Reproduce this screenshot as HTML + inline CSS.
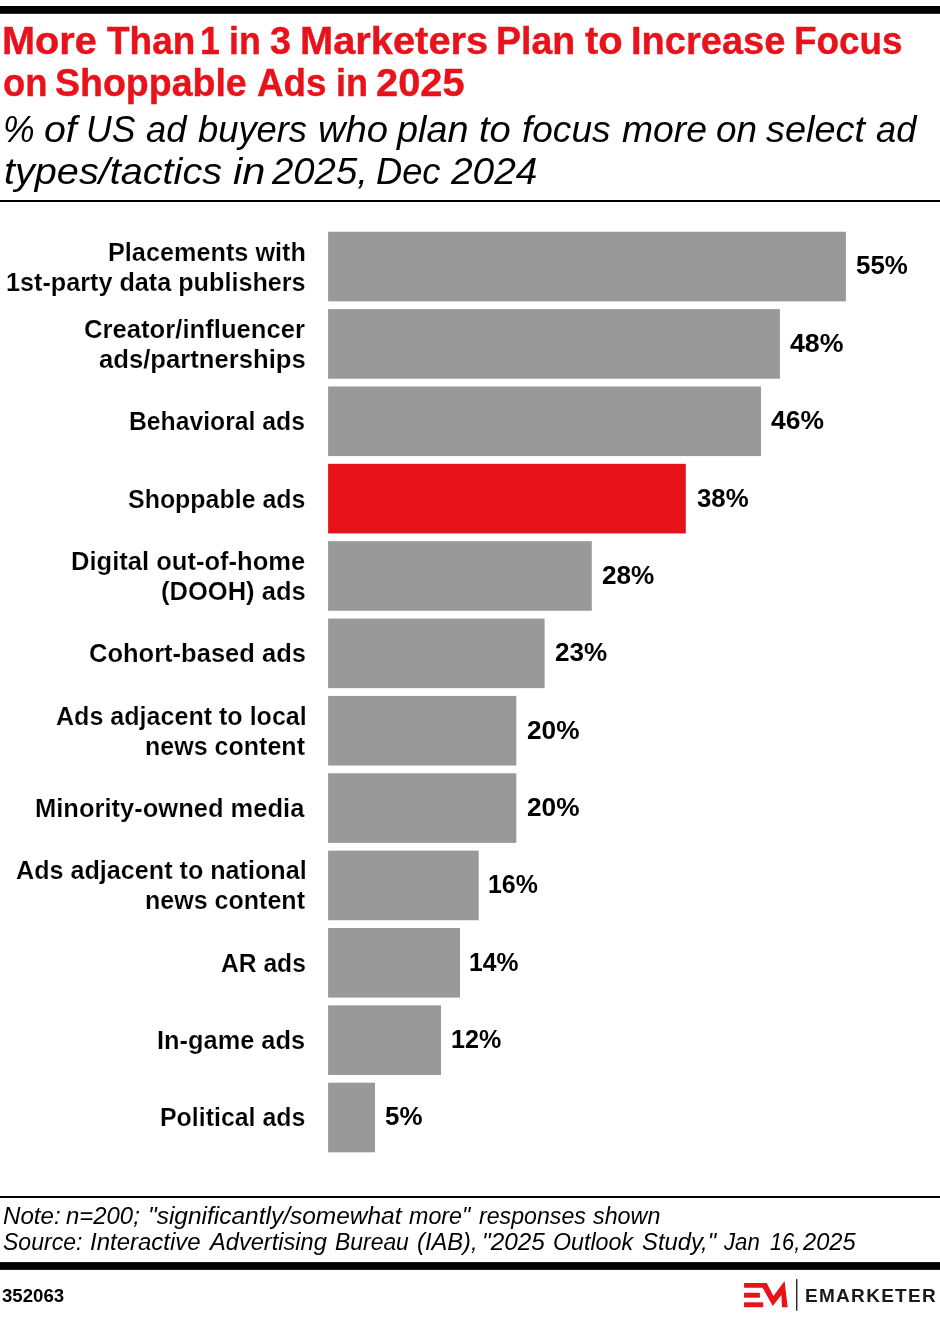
<!DOCTYPE html>
<html lang="en"><head><meta charset="utf-8"><title>More Than 1 in 3 Marketers Plan to Increase Focus on Shoppable Ads in 2025</title>
<style>
html,body{margin:0;padding:0;background:#fff}
body{width:940px;height:1322px;position:relative;overflow:hidden;font-family:"Liberation Sans",Arial,sans-serif;color:#000}
svg{position:absolute;left:0;top:0}
h1,p,header,section,footer{margin:0;padding:0;font-size:0;line-height:0}
.t{position:absolute;left:0;width:940px;margin:0;padding:0;white-space:pre}
.t span{position:absolute;top:0;transform-origin:0 0;white-space:pre}
.h1{font:bold 38px/38px "Liberation Sans",sans-serif;color:#e8121b;-webkit-text-stroke:0.4px #e8121b}
.h2{font:italic 37.8px/37.8px "Liberation Sans",sans-serif}
.lab{font:bold 25.6px/25.6px "Liberation Sans",sans-serif;-webkit-text-stroke:0.18px #fff}
.val{font:bold 25.2px/25.2px "Liberation Sans",sans-serif}
.fn{font:italic 23.7px/23.7px "Liberation Sans",sans-serif}
.id{font:bold 17.6px/17.6px "Liberation Sans",sans-serif}
.brand{font:bold 19px/19px "Liberation Sans",sans-serif;color:#1a1a1a}
</style></head><body>
<svg width="940" height="1322" viewBox="0 0 940 1322">
<rect x="0" y="6" width="940" height="7.8" fill="#000"/>
<rect x="0" y="200" width="940" height="2" fill="#000"/>
<rect x="0" y="1196" width="940" height="2" fill="#000"/>
<rect x="0" y="1262.1" width="940" height="7.8" fill="#000"/>
<rect x="328.1" y="231.75" width="517.8" height="69.6" fill="#999999"/>
<rect x="328.1" y="309.11" width="451.8" height="69.6" fill="#999999"/>
<rect x="328.1" y="386.47" width="432.9" height="69.6" fill="#999999"/>
<rect x="328.1" y="463.83" width="357.7" height="69.6" fill="#e8121b"/>
<rect x="328.1" y="541.19" width="263.7" height="69.6" fill="#999999"/>
<rect x="328.1" y="618.55" width="216.5" height="69.6" fill="#999999"/>
<rect x="328.1" y="695.91" width="188.2" height="69.6" fill="#999999"/>
<rect x="328.1" y="773.27" width="188.2" height="69.6" fill="#999999"/>
<rect x="328.1" y="850.63" width="150.6" height="69.6" fill="#999999"/>
<rect x="328.1" y="927.99" width="131.9" height="69.6" fill="#999999"/>
<rect x="328.1" y="1005.35" width="112.9" height="69.6" fill="#999999"/>
<rect x="328.1" y="1082.71" width="46.9" height="69.6" fill="#999999"/>
<polygon fill="#e8121b" points="744.06,1282.94 766.72,1282.94 773.43,1296.02 784.6,1281.02 787.66,1307.19 781.91,1307.19 781.4,1295.06 772.79,1305.91 762.57,1287.72 744.06,1287.72"/>
<rect fill="#e8121b" x="744.06" y="1292.8" width="15.84" height="4.9"/>
<rect fill="#e8121b" x="744.06" y="1302.3" width="19.14" height="4.9"/>
<rect fill="#111" x="796.1" y="1279.1" width="1.3" height="31.6"/>
</svg>
<header>
<h1>
<div class="t h1" style="top:22px;height:38px"><span style="left:2.41px;transform:scaleX(1.0438)">More </span><span style="left:107.10px;transform:scaleX(0.9721)">Than </span><span style="left:199.69px;transform:scaleX(0.9400)">1 </span><span style="left:229.17px;transform:scaleX(0.9400)">in </span><span style="left:270.10px;transform:scaleX(0.9947)">3 </span><span style="left:299.80px;transform:scaleX(1.0480)">Marketers </span><span style="left:496.32px;transform:scaleX(0.9877)">Plan </span><span style="left:584.50px;transform:scaleX(1.0501)">to </span><span style="left:631.20px;transform:scaleX(1.0007)">Increase </span><span style="left:794.06px;transform:scaleX(0.9699)">Focus</span></div>
<div class="t h1" style="top:64px;height:38px"><span style="left:3.04px;transform:scaleX(0.9578)">on </span><span style="left:55.41px;transform:scaleX(0.9870)">Shoppable </span><span style="left:257.10px;transform:scaleX(0.9680)">Ads </span><span style="left:335.61px;transform:scaleX(0.9469)">in </span><span style="left:375.95px;transform:scaleX(1.0478)">2025</span></div>
</h1>
<p>
<div class="t h2" style="top:111px;height:37.8px"><span style="left:2.72px;transform:scaleX(0.9400)">% </span><span style="left:43.56px;transform:scaleX(1.0403)">of </span><span style="left:85.98px;transform:scaleX(0.9400)">US </span><span style="left:146.30px;transform:scaleX(0.9631)">ad </span><span style="left:197.70px;transform:scaleX(0.9608)">buyers </span><span style="left:317.69px;transform:scaleX(1.0115)">who </span><span style="left:397.00px;transform:scaleX(0.9993)">plan </span><span style="left:479.19px;transform:scaleX(1.0098)">to </span><span style="left:521.82px;transform:scaleX(0.9794)">focus </span><span style="left:621.50px;transform:scaleX(0.9870)">more </span><span style="left:715.62px;transform:scaleX(0.9769)">on </span><span style="left:766.30px;transform:scaleX(1.0025)">select </span><span style="left:875.70px;transform:scaleX(0.9585)">ad</span></div>
<div class="t h2" style="top:153px;height:37.8px"><span style="left:3.75px;transform:scaleX(1.0484)">types/tactics </span><span style="left:232.68px;transform:scaleX(1.1000)">in </span><span style="left:271.51px;transform:scaleX(1.0131)">2025, </span><span style="left:375.64px;transform:scaleX(0.9590)">Dec </span><span style="left:451.43px;transform:scaleX(1.0277)">2024</span></div>
</p>
</header>
<section class="chart">
<div class="row">
<div class="t lab" style="top:240px;height:25.6px"><span style="left:107.91px;transform:scaleX(0.9868)">Placements with</span></div>
<div class="t lab" style="top:270px;height:25.6px"><span style="left:5.82px;transform:scaleX(0.9844)">1st-party data publishers</span></div>
<div class="t val" style="top:253px;height:25.2px"><span style="left:856.20px;transform:scaleX(1.0295)">55%</span></div>
</div>
<div class="row">
<div class="t lab" style="top:317px;height:25.6px"><span style="left:84.10px;transform:scaleX(1.0028)">Creator/influencer</span></div>
<div class="t lab" style="top:347px;height:25.6px"><span style="left:98.70px;transform:scaleX(1.0023)">ads/partnerships</span></div>
<div class="t val" style="top:331px;height:25.2px"><span style="left:790.10px;transform:scaleX(1.0614)">48%</span></div>
</div>
<div class="row">
<div class="t lab" style="top:409px;height:25.6px"><span style="left:129.43px;transform:scaleX(0.9665)">Behavioral ads</span></div>
<div class="t val" style="top:408px;height:25.2px"><span style="left:771.30px;transform:scaleX(1.0495)">46%</span></div>
</div>
<div class="row">
<div class="t lab" style="top:487px;height:25.6px"><span style="left:128.00px;transform:scaleX(0.9747)">Shoppable ads</span></div>
<div class="t val" style="top:486px;height:25.2px"><span style="left:696.60px;transform:scaleX(1.0235)">38%</span></div>
</div>
<div class="row">
<div class="t lab" style="top:549px;height:25.6px"><span style="left:71.20px;transform:scaleX(0.9985)">Digital out-of-home</span></div>
<div class="t lab" style="top:579px;height:25.6px"><span style="left:160.70px;transform:scaleX(0.9978)">(DOOH) ads</span></div>
<div class="t val" style="top:563px;height:25.2px"><span style="left:602.40px;transform:scaleX(1.0395)">28%</span></div>
</div>
<div class="row">
<div class="t lab" style="top:641px;height:25.6px"><span style="left:88.50px;transform:scaleX(0.9970)">Cohort-based ads</span></div>
<div class="t val" style="top:640px;height:25.2px"><span style="left:555.00px;transform:scaleX(1.0355)">23%</span></div>
</div>
<div class="row">
<div class="t lab" style="top:704px;height:25.6px"><span style="left:55.50px;transform:scaleX(0.9796)">Ads adjacent to local</span></div>
<div class="t lab" style="top:734px;height:25.6px"><span style="left:144.72px;transform:scaleX(0.9784)">news content</span></div>
<div class="t val" style="top:718px;height:25.2px"><span style="left:526.80px;transform:scaleX(1.0415)">20%</span></div>
</div>
<div class="row">
<div class="t lab" style="top:796px;height:25.6px"><span style="left:35.10px;transform:scaleX(0.9969)">Minority-owned media</span></div>
<div class="t val" style="top:795px;height:25.2px"><span style="left:526.80px;transform:scaleX(1.0415)">20%</span></div>
</div>
<div class="row">
<div class="t lab" style="top:858px;height:25.6px"><span style="left:15.60px;transform:scaleX(0.9827)">Ads adjacent to national</span></div>
<div class="t lab" style="top:888px;height:25.6px"><span style="left:144.72px;transform:scaleX(0.9784)">news content</span></div>
<div class="t val" style="top:872px;height:25.2px"><span style="left:488.31px;transform:scaleX(0.9893)">16%</span></div>
</div>
<div class="row">
<div class="t lab" style="top:951px;height:25.6px"><span style="left:220.60px;transform:scaleX(0.9619)">AR ads</span></div>
<div class="t val" style="top:950px;height:25.2px"><span style="left:469.32px;transform:scaleX(0.9791)">14%</span></div>
</div>
<div class="row">
<div class="t lab" style="top:1028px;height:25.6px"><span style="left:157.31px;transform:scaleX(0.9918)">In-game ads</span></div>
<div class="t val" style="top:1027px;height:25.2px"><span style="left:450.80px;transform:scaleX(0.9954)">12%</span></div>
</div>
<div class="row">
<div class="t lab" style="top:1105px;height:25.6px"><span style="left:160.03px;transform:scaleX(0.9735)">Political ads</span></div>
<div class="t val" style="top:1104px;height:25.2px"><span style="left:385.40px;transform:scaleX(1.0275)">5%</span></div>
</div>
</section>
<footer>
<div class="t fn" style="top:1205px;height:23.7px"><span style="left:2.60px;transform:scaleX(1.0171)">Note: </span><span style="left:66.40px;transform:scaleX(1.0090)">n=200; </span><span style="left:147.63px;transform:scaleX(1.0330)">&quot;significantly/somewhat </span><span style="left:409.40px;transform:scaleX(0.9831)">more&quot; </span><span style="left:478.60px;transform:scaleX(0.9776)">responses </span><span style="left:592.80px;transform:scaleX(0.9837)">shown</span></div>
<div class="t fn" style="top:1231px;height:23.7px"><span style="left:2.60px;transform:scaleX(0.9721)">Source: </span><span style="left:89.90px;transform:scaleX(1.0128)">Interactive </span><span style="left:210.09px;transform:scaleX(0.9974)">Advertising </span><span style="left:334.80px;transform:scaleX(0.9670)">Bureau </span><span style="left:416.90px;transform:scaleX(1.0006)">(IAB), </span><span style="left:482.24px;transform:scaleX(1.0294)">&quot;2025 </span><span style="left:553.32px;transform:scaleX(0.9805)">Outlook </span><span style="left:642.10px;transform:scaleX(1.0053)">Study,&quot; </span><span style="left:723.94px;transform:scaleX(0.9378)">Jan </span><span style="left:769.69px;transform:scaleX(0.9200)">16, </span><span style="left:803.10px;transform:scaleX(0.9995)">2025</span></div>
<div class="t id" style="top:1288px;height:17.6px"><span style="left:2.20px;transform:scaleX(1.0588)">352063</span></div>
<div class="t brand" style="top:1286px;height:19px"><span style="left:805.00px;letter-spacing:1.297px">EMARKETER</span></div>
</footer>
</body></html>
